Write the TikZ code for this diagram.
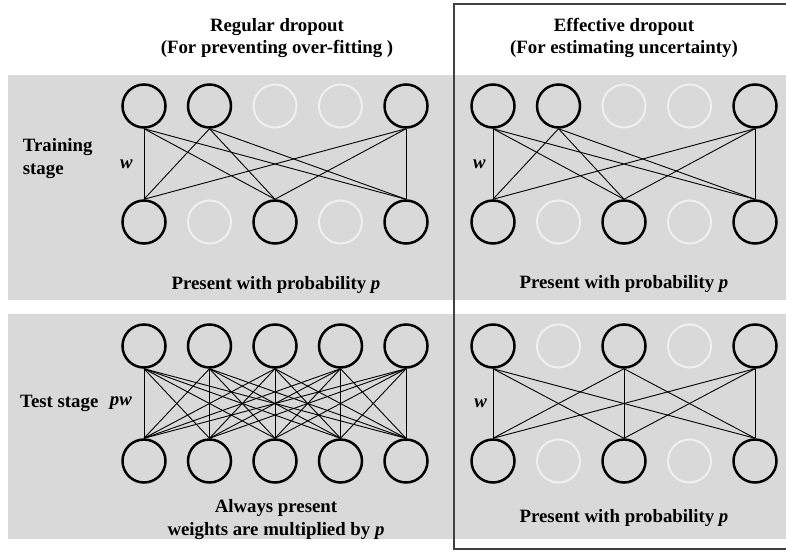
\documentclass[tikz,border=0pt]{standalone}
\usepackage{fontspec}
\setmainfont{Liberation Serif}
\usepackage{tikz}

\tikzset{
  neuron/.style={shape=circle,draw=black,line width=2.5pt,minimum size=43pt,inner sep=0pt},
  dropped/.style={shape=circle,draw=white!94!black,line width=2pt,minimum size=43pt,inner sep=0pt},
  wire/.style={-,line width=0.9pt},
  txt/.style={font=\bfseries\fontsize{18.8}{22.5}\selectfont,inner sep=0pt},
  wlbl/.style={font=\bfseries\itshape\fontsize{18.8}{22}\selectfont,inner sep=0pt},
}

\begin{document}
\begin{tikzpicture}[x=1pt,y=-1pt]
    	\useasboundingbox (0,0) rectangle (786,551);
    	
    	% grey stage bands and the box round the effective dropout column
    	\fill[black!15] (8,75) rectangle (786,300);
    	\fill[black!15] (8,314) rectangle (786,539);
    	\draw[black!75,line width=1.3pt] (786,4) -| (454,549) -- (786,549);
    	
    	% headers
    	\node[txt,align=center,anchor=base] (hdrR) at (277,54) {Regular dropout\\(For preventing over-fitting )};
    	\node[txt,align=center,anchor=base] (hdrE) at (624,54) {Effective dropout\\(For estimating uncertainty)};
    	
    	% training stage
    	\foreach \i/\s in {1/neuron,2/neuron,3/dropped,4/dropped,5/neuron} {
    	  \node[\s] (RTu\i) at ({144+65.5*(\i-1)},106) {};
    	  \node[\s] (ETu\i) at ({493+65.5*(\i-1)},106) {};
    	}
    	\foreach \i/\s in {1/neuron,2/dropped,3/neuron,4/dropped,5/neuron} {
    	  \node[\s] (RTd\i) at ({144+65.5*(\i-1)},222) {};
    	  \node[\s] (ETd\i) at ({493+65.5*(\i-1)},222) {};
    	}
    	\foreach \a in {2,5} \foreach \b in {1,3,5} {
    	  \path[wire] (RTu\a.south) edge (RTd\b.north);
    	  \path[wire] (ETu\a.south) edge (ETd\b.north);
    	}
    	\foreach \b in {3,5} {
    	  \path[wire] (RTu1.south) edge (RTd\b.north);
    	  \path[wire] (ETu1.south) edge (ETd\b.north);
    	}
    	\path[wire] (RTu1.south) edge node[wlbl,left=11pt]{w} (RTd1.north);
    	\path[wire] (ETu1.south) edge node[wlbl,left=7pt]{w} (ETd1.north);
    	
    	\node[txt,align=left,anchor=base west] (train) at (22.7,174) {Training\\stage};
    	\node[txt,anchor=base] (probRT) at (276,289) {Present with probability \textit{p}};
    	\node[txt,anchor=base] (probET) at (624,288) {Present with probability \textit{p}};
    	
    	% test stage
    	\foreach \i in {1,...,5} {
    	  \node[neuron] (RSu\i) at ({144+65.5*(\i-1)},346) {};
    	  \node[neuron] (RSd\i) at ({144+65.5*(\i-1)},461) {};
    	}
    	\foreach \i/\s in {1/neuron,2/dropped,3/neuron,4/dropped,5/neuron} {
    	  \node[\s] (ESu\i) at ({493+65.5*(\i-1)},346) {};
    	  \node[\s] (ESd\i) at ({493+65.5*(\i-1)},461) {};
    	}
    	\foreach \a in {1,...,5} \foreach \b in {1,...,5} {
    	  \path[wire] (RSu\a.south) edge (RSd\b.north);
    	}
    	\foreach \a in {1,3,5} \foreach \b in {1,3,5} {
    	  \path[wire] (ESu\a.south) edge (ESd\b.north);
    	}
    	\path (RSu1.south) -- node[wlbl,left=12pt]{pw} (RSd1.north);
    	\path (ESu1.south) -- node[wlbl,left=6pt]{w} (ESd1.north);
    	
    	\node[txt,anchor=base west] (test) at (20,407) {Test stage};
    	\node[txt,align=center,anchor=base] (always) at (276,535) {Always present\\weights are multiplied by \textit{p}};
    	\node[txt,anchor=base] (probES) at (624,522) {Present with probability \textit{p}};
    	
\end{tikzpicture}
\end{document}
